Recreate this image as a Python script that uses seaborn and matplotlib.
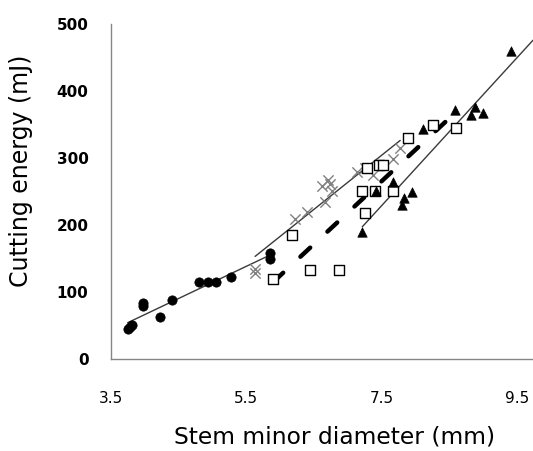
import numpy as np
import pandas as pd
import matplotlib
matplotlib.use("Agg")
import matplotlib.pyplot as plt
import seaborn as sns

# ---- data ----
circ_x = [3.75, 3.78, 3.81, 3.98, 3.98, 4.22, 4.41, 4.80, 4.94, 5.05, 5.27, 5.85, 5.85]
circ_y = [45, 48, 51, 84, 80, 63, 88, 115, 115, 115, 123, 158, 150]

cross_x = [5.63, 5.63, 6.22, 6.39, 6.66, 6.62, 6.70, 6.73, 6.76, 7.13, 7.25, 7.37, 7.67, 7.77]
cross_y = [135, 128, 209, 219, 234, 258, 268, 262, 251, 280, 285, 275, 299, 315]

sq_x = [5.90, 6.17, 6.44, 6.87, 7.20, 7.25, 7.28, 7.40, 7.45, 7.51, 7.66, 7.89, 8.25, 8.59]
sq_y = [119, 185, 133, 133, 251, 218, 285, 251, 289, 289, 251, 330, 349, 345]

tri_x = [7.21, 7.41, 7.67, 7.79, 7.82, 7.94, 8.11, 8.58, 8.82, 8.87, 8.99, 9.40]
tri_y = [190, 251, 265, 230, 240, 249, 343, 372, 364, 376, 367, 459]

x_ticks = [3.5, 5.5, 7.5, 9.5]
y_ticks = [0, 100, 200, 300, 400, 500]
x_label = "Stem minor diameter (mm)"
y_label = "Cutting energy (mJ)"

sns.set_style("white")
plt.rcParams['font.family'] = ['DejaVu Sans']

fig = plt.figure(figsize=(5.33, 4.51), dpi=100)
W, H = 533, 451
left, right, top, bottom = 110.7, 533, 24, 359.3
ax = fig.add_axes([left / W, (H - bottom) / H, (right - left) / W, (bottom - top) / H])

XMIN, XMAX = 3.5, 3.5 + (right - left) / 67.8


def fit(x, y):
    return np.polyfit(np.asarray(x, float), np.asarray(y, float), 1)

trend_kw = dict(color="#3a3a3a", lw=1.0, zorder=2)

# trend lines
for xs, ys, ext in [(circ_x, circ_y, False), (cross_x, cross_y, False), (tri_x, tri_y, True)]:
    m, b = fit(xs, ys)
    xx = np.array([min(xs), XMAX if ext else max(xs)])
    sns.lineplot(x=xx, y=m * xx + b, ax=ax, **trend_kw)

m, b = fit(sq_x, sq_y)
xx = np.array([min(sq_x), max(sq_x)])
ax.plot(xx, m * xx + b, color="black", lw=3.2, ls=(0, (3.0, 5.3)),
        dash_capstyle="round", zorder=2)

# scatter groups
sns.scatterplot(x=circ_x, y=circ_y, ax=ax, marker="o", s=45, color="black",
                edgecolor="black", linewidth=0.5, zorder=3)
sns.scatterplot(x=cross_x, y=cross_y, ax=ax, marker="x", s=55, color="#808080",
                linewidth=1.0, zorder=3)
sns.scatterplot(x=sq_x, y=sq_y, ax=ax, marker="s", s=42, facecolor="white",
                edgecolor="black", linewidth=1.0, zorder=3)
sns.scatterplot(x=tri_x, y=tri_y, ax=ax, marker="^", s=46, color="black",
                edgecolor="black", linewidth=0.5, zorder=3)

ax.set_xlim(XMIN, XMAX)
ax.set_ylim(0, 500)
ax.set_xticks(x_ticks)
ax.set_xticklabels([f"{t:.1f}" for t in x_ticks])
ax.set_yticks(y_ticks)
ax.set_yticklabels([str(t) for t in y_ticks])

for s in ["top", "right"]:
    ax.spines[s].set_visible(False)
for s in ["left", "bottom"]:
    ax.spines[s].set_color("#868686")
    ax.spines[s].set_linewidth(1.0)

ax.tick_params(axis="x", direction="out", length=5, width=1, color="#868686",
               pad=18, labelsize=11, labelcolor="black")
ax.tick_params(axis="y", direction="out", length=5, width=1, color="#868686",
               pad=11, labelsize=11, labelcolor="black")
for lab in ax.get_yticklabels():
    lab.set_fontweight("bold")

ax.set_xlabel(x_label, fontsize=16.8, color="black")
ax.set_ylabel(y_label, fontsize=17, color="black")
ax.xaxis.set_label_coords((335 - left) / (right - left), -(426 - bottom) / (bottom - top))
ax.yaxis.set_label_coords(-(left - 33) / (right - left), (bottom - 171) / (bottom - top))
ax.grid(False)

fig.savefig("out.png", dpi=100)
